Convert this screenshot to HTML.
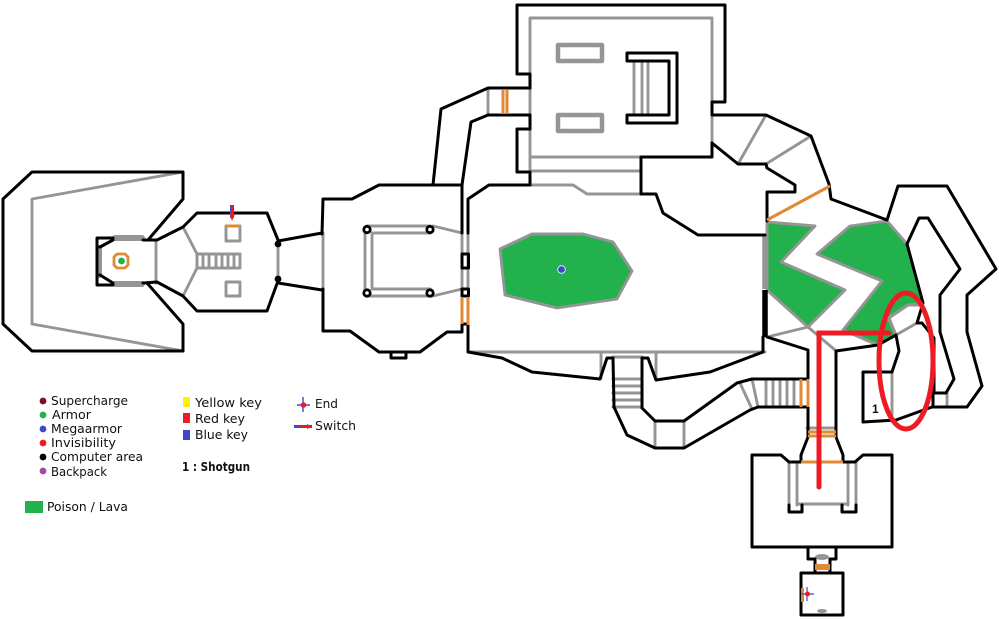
<!DOCTYPE html>
<html><head><meta charset="utf-8"><style>
html,body{margin:0;padding:0;background:#fff}
svg{display:block}
.k{fill:none;stroke:#000;stroke-width:3;stroke-linejoin:round;stroke-linecap:round}
.g{fill:none;stroke:#959595;stroke-width:2.900;stroke-linejoin:round;stroke-linecap:round}
.o{fill:none;stroke:#e08a36;stroke-width:3}
text{font-family:"DejaVu Sans","Liberation Sans",sans-serif;font-size:12px;fill:#111}
</style></head><body>
<svg width="999" height="619" viewBox="0 0 999 619" xmlns="http://www.w3.org/2000/svg">
<!-- green -->
<g fill="#22b14c" stroke="#959595" stroke-width="2.900" stroke-linejoin="round">
<polygon points="500,249 532,234 583,234 613,242 632,271 617,299 557,308 505,295"/>
<polygon points="767,222 815,226 781,262 845,290 808,327 767,290"/>
<polygon points="850,226 887,221 907,244 923,303 908,305 888,318 896,335 878,345 843,330 882,281 817,254"/>
</g>
<!-- gray -->
<g class="g">
<polyline points="183,172 32,199 32,324 183,351"/>
<line x1="156" y1="240" x2="156" y2="283"/>
<polyline points="183,227 197,254 197,268 183,296"/>
<rect x="197" y="254" width="43" height="14"/>
<path d="M203 254V268M209 254V268M216 254V268M222 254V268M228 254V268M234 254V268"/>
<rect x="226" y="226" width="14" height="15"/>
<rect x="226" y="282" width="14" height="14"/>
<line x1="278" y1="244" x2="278" y2="279"/>
<line x1="323" y1="233" x2="323" y2="289"/>
<path d="M367 226H430M372 233H430M365 229V293M372 233V289M372 289H430M367 296H430"/>
<polyline points="433,226 462,233 462,289 433,296"/>
<line x1="468" y1="233" x2="468" y2="289"/>
<line x1="433" y1="185" x2="462" y2="185"/>
<line x1="488" y1="88" x2="488" y2="115"/>
<line x1="391" y1="352" x2="406" y2="352"/>
<polyline points="530,185 573,185 587,194 641,194"/>
<path d="M468 352H765M601 352V378M656 352V380M613 357H642"/>
<polyline points="530,74 530,18 712,18 712,102"/>
<path d="M530 88V115M530 129V172M712 115V142M530 157H641M530 171H641"/>
<path d="M634 61V115M642 61V115M648 61V115"/>
<path d="M766 115L738 164M811 136L766 164"/>
<path d="M767 337L808 327L835 350M843 330L878 345"/>
<path d="M889 318L908 305H922M896 335L917 323M889 318L896 335"/>
<path d="M892 372V421M933 393V407M947 393V407"/>
<path d="M613 379H642M613 386H642M613 393H642M613 400H642M613 407H642"/>
<path d="M655 421V448M684 421V448"/>
<path d="M740 383L752 409M752 379L758 407"/>
<path d="M766 379V407M773 379V407M780 379V407M787 379V407M794 379V407"/>
<path d="M807 428H836"/>
<path d="M789 462V505M797 462V505M848 462V505M856 462V505M797 504H848"/>
<path d="M808 547H837M815 573H830"/>
</g>
<g stroke="#959595" fill="none" stroke-linecap="round" stroke-linejoin="round">
<path d="M115 238H142M115 284H142" stroke-width="6"/>
<path d="M99 248V275" stroke-width="6"/>
<rect x="558" y="45" width="44" height="16" stroke-width="4.500"/>
<rect x="558" y="115" width="44" height="16" stroke-width="4.500"/>
<path d="M765 236V289" stroke-width="5.500" stroke-linecap="butt"/>
</g>
<ellipse cx="822" cy="557" rx="7" ry="3" fill="#959595"/>
<ellipse cx="822" cy="611" rx="5" ry="2" fill="#959595"/>
<!-- black -->
<g class="k">
<polyline points="148,240 183,199 183,172 32,172 3,199 3,324 32,351 183,351 183,324 147,283"/>
<polyline points="113,238 97,238 97,285 113,285"/>
<path d="M100 247L113 240M100 275L113 283"/>
<polyline points="143,240 157,240 183,227 197,213 267,213 278,240"/>
<polyline points="143,283 157,282 183,296 197,311 267,311 278,281"/>
<path d="M278 241L322 233M278 283L322 290"/>
<polyline points="322,234 323,199 352,199 379,185 462,185 462,233"/>
<polyline points="323,289 323,331 350,331 379,352 420,352 447,332 462,332 462,324 468,324"/>
<polyline points="391,353 391,358 406,358 406,353"/>
<polyline points="433,185 441,109 488,88 530,88"/>
<polyline points="462,185 471,122 488,115 530,115"/>
<rect x="462" y="254" width="6.500" height="14"/>
<rect x="462" y="289" width="6.500" height="7"/>
<polyline points="468,233 468,199 489,185 530,185 530,172 517,172 517,129 530,129 530,115"/>
<polyline points="530,88 530,74 517,74 517,5 725,5 725,102 712,102 712,115 766,115 811,136 829,184 831,199 887,220 898,186 947,186 996,269 967,295 967,332 982,386 967,407 932,407 896,420 863,422 863,372 892,372 899,351 896,335 878,345 836,351 836,428"/>
<polyline points="712,143 712,157 641,157 641,194 656,194 663,213 698,235 765,235"/>
<polyline points="712,143 738,164 766,164 767,168 795,185 795,192 767,192 767,221"/>
<polyline points="627,61 627,53 677,53 677,123 627,123 627,115 669,115 669,61 627,61"/>
<polyline points="907,244 919,218 928,218 960,269 940,295 940,332 954,379 946,393 933,393 933,407"/>
<polyline points="907,244 923,303 917,323 922,323 934,338 934,393"/>
<polyline points="767,337 808,350 808,428"/>
<polyline points="468,325 468,352 502,358 532,372 600,379 607,358 613,358 614,407 627,435 655,448 684,448 750,410 758,407 808,407"/>
<polyline points="642,408 642,358 648,358 656,380 710,372 763,352 763,337"/>
<polyline points="642,408 655,421 684,421 737,383 752,379 808,379"/>
<polyline points="808,437 801,455 801,462 789,462 781,455 752,455 752,547 892,547 892,455 863,455 855,462 843,462 843,455 836,437 836,428"/>
<polyline points="808,428 808,437"/>
<polyline points="789,505 789,512 802,512 802,505"/>
<polyline points="842,505 842,512 856,512 856,505"/>
<polyline points="808,547 808,559 815,559 815,573"/>
<polyline points="836,547 836,559 830,559 830,573"/>
<rect x="801" y="573" width="42" height="42"/>
</g>
<path d="M765 290V337" stroke="#000" stroke-width="5.500" fill="none"/>
<circle cx="278" cy="244" r="3.400" fill="#000"/>
<circle cx="278" cy="279" r="3.400" fill="#000"/>
<g fill="#fff" stroke="#000" stroke-width="2.800">
<circle cx="367" cy="229.500" r="3.200"/><circle cx="430" cy="229.500" r="3.200"/>
<circle cx="367" cy="293" r="3.200"/><circle cx="430" cy="293" r="3.200"/>
</g>
<!-- orange -->
<g class="o">
<path d="M226 226H240"/>
<path d="M503 90V114M507 90V114"/>
<path d="M462 297V324M468 297V325"/>
<path d="M767 220L830 186"/>
<path d="M801 379V407M808 379V407"/>
<path d="M808 432H836M808 436H836"/>
<path d="M801 462H843"/>
</g>
<rect x="815" y="564" width="15" height="6" fill="#e08a36"/>
<rect x="801" y="588" width="3" height="14" fill="#e08a36"/>
<polygon points="117,254 125,254 128,257 128,265 125,268 117,268 114,265 114,257" fill="#fff" stroke="#e08a36" stroke-width="2.800"/>
<circle cx="121.500" cy="261" r="3.400" fill="#22b14c"/>
<circle cx="561.500" cy="269.500" r="4.200" fill="#fff"/>
<circle cx="561.500" cy="269.500" r="3.400" fill="#3f48cc"/>
<!-- switch arrow on map -->
<rect x="230" y="205" width="4" height="13" fill="#3f48cc"/>
<polygon points="231.500,205 233,205 233,214 235,214 232,221 229.500,214 231.500,214" fill="#ed1c24"/>
<!-- end marker -->
<path d="M807 587V601M801 594H814" stroke="#3f48cc" stroke-width="1.200"/>
<circle cx="807.500" cy="594" r="2.500" fill="#ed1c24"/>
<!-- red annotations -->
<polyline points="819,487 819,333 889,333" fill="none" stroke="#ed1c24" stroke-width="5" stroke-linecap="round"/>
<ellipse cx="906" cy="361" rx="27" ry="68" fill="none" stroke="#ed1c24" stroke-width="5"/>
<text x="872" y="413" style="font-weight:bold;font-family:'Liberation Sans',sans-serif" font-size="12">1</text>
<!-- legend -->
<circle cx="43" cy="401" r="3.400" fill="#7f0f20"/>
<circle cx="43" cy="415" r="3.400" fill="#22b14c"/>
<circle cx="43" cy="429" r="3.400" fill="#3f48cc"/>
<circle cx="43" cy="443" r="3.400" fill="#ed1c24"/>
<circle cx="43" cy="457" r="3.400" fill="#000"/>
<circle cx="43" cy="471" r="3.400" fill="#a349a4"/>
<text x="51" y="405" textLength="77" lengthAdjust="spacingAndGlyphs">Supercharge</text>
<text x="52" y="419" textLength="39" lengthAdjust="spacingAndGlyphs">Armor</text>
<text x="51" y="433" textLength="71" lengthAdjust="spacingAndGlyphs">Megaarmor</text>
<text x="51" y="447" textLength="65" lengthAdjust="spacingAndGlyphs">Invisibility</text>
<text x="51" y="461" textLength="92" lengthAdjust="spacingAndGlyphs">Computer area</text>
<text x="51" y="476" textLength="56" lengthAdjust="spacingAndGlyphs">Backpack</text>
<rect x="183" y="397" width="7" height="10" fill="#fff200"/>
<rect x="183" y="413" width="7" height="10" fill="#ed1c24"/>
<rect x="183" y="430" width="7" height="10" fill="#3f48cc"/>
<text x="195" y="407" textLength="67" lengthAdjust="spacingAndGlyphs">Yellow key</text>
<text x="195" y="423" textLength="50" lengthAdjust="spacingAndGlyphs">Red key</text>
<text x="195" y="439" textLength="53" lengthAdjust="spacingAndGlyphs">Blue key</text>
<text x="182" y="471" textLength="68" lengthAdjust="spacingAndGlyphs" style="font-weight:bold">1 : Shotgun</text>
<path d="M303 397V412M297 405H310" stroke="#3f48cc" stroke-width="1.400"/>
<circle cx="303.500" cy="405" r="2.800" fill="#ed1c24"/>
<text x="315" y="408" textLength="23" lengthAdjust="spacingAndGlyphs">End</text>
<rect x="294" y="425" width="18" height="3" fill="#3f48cc"/>
<polygon points="299,425.500 307,425.500 307,424 312,426.500 307,429 307,427.500 299,427.500" fill="#ed1c24"/>
<text x="315" y="430" textLength="41" lengthAdjust="spacingAndGlyphs">Switch</text>
<rect x="25" y="501" width="18" height="12" fill="#22b14c"/>
<text x="47" y="511" textLength="81" lengthAdjust="spacingAndGlyphs">Poison / Lava</text>
</svg>
</body></html>
